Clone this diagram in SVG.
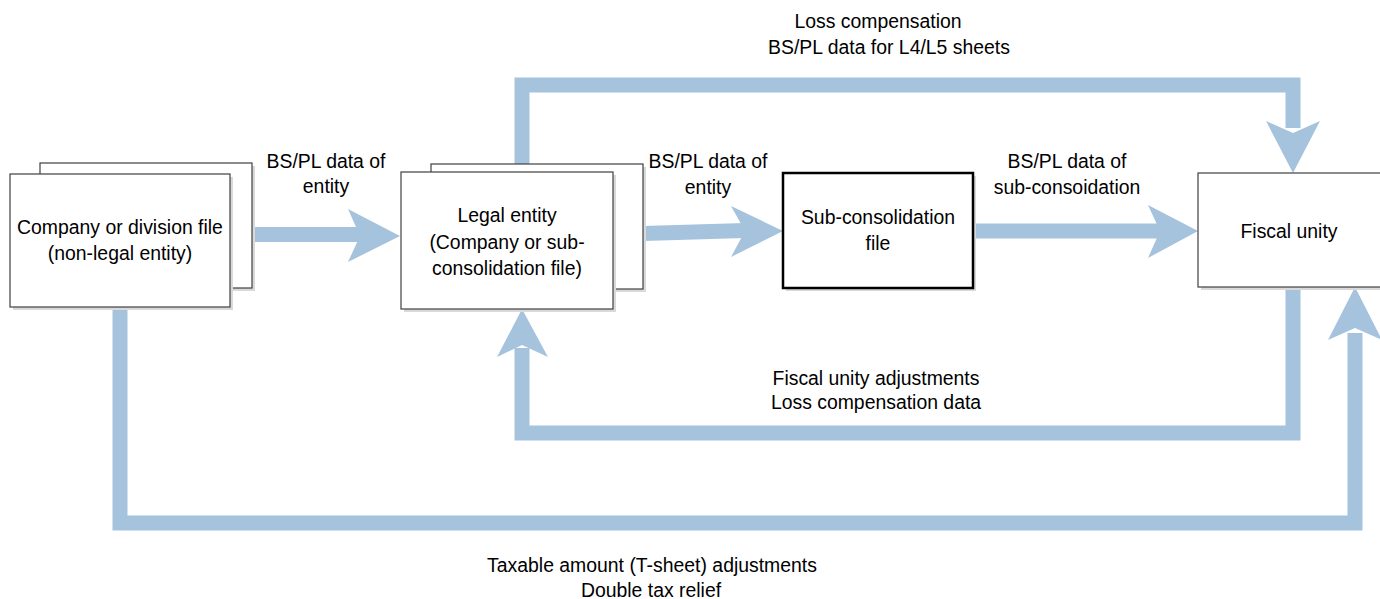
<svg xmlns="http://www.w3.org/2000/svg" width="1380" height="599" viewBox="0 0 1380 599">
<style>
.box{fill:#fff;stroke:#404040;stroke-width:1.2}
.thick{fill:#fff;stroke:#000;stroke-width:2.5}
.shadow{fill:#d9d9d9}
.flow{fill:none;stroke:#a6c3dd;stroke-width:15}
.head{fill:#a6c3dd}
text{font-family:"Liberation Sans",Arial,sans-serif;font-size:19.4px;fill:#000;text-anchor:middle}
</style>
<rect width="1380" height="599" fill="#fff"/>
<g id="connectors">
  <path class="flow" d="M522,164 V85 H1293 V128"/>
  <polygon class="head" points="1293,173 1266,121 1293,133 1320,121"/>
  <path class="flow" d="M1293,288 V433 H522 V348"/>
  <polygon class="head" points="522,309 497,357 522,345 548,357"/>
  <path class="flow" d="M120,308 V523 H1355 V333"/>
  <polygon class="head" points="1355,287 1328,340 1355,328 1382,340"/>
  <path class="flow" d="M252,234.5 H362" stroke-width="17"/>
  <polygon class="head" points="400,236 348,209 360,236 348,262"/>
  <path class="flow" d="M643,233.5 L745,230.5" stroke-width="16"/>
  <polygon class="head" points="783,231 731,206 745,231 731,257"/>
  <path class="flow" d="M973,231 H1162" stroke-width="16"/>
  <polygon class="head" points="1198,231 1148,205 1160,231 1148,258"/>
</g>
<g id="company">
  <rect class="shadow" x="43" y="166" width="212" height="125"/>
  <rect class="box" x="40" y="163" width="212" height="125"/>
  <rect class="shadow" x="13" y="177" width="220" height="133"/>
  <rect class="box" x="10" y="174" width="220" height="133"/>
  <text x="120" y="234">Company or division file</text>
  <text x="120" y="260">(non-legal entity)</text>
</g>
<g id="legal">
  <rect class="shadow" x="434" y="167" width="212" height="125"/>
  <rect class="box" x="431" y="164" width="212" height="125"/>
  <rect class="shadow" x="404" y="175" width="212" height="137"/>
  <rect class="box" x="401" y="172" width="212" height="137"/>
  <text x="507" y="222">Legal entity</text>
  <text x="507" y="249">(Company or sub-</text>
  <text x="507" y="275">consolidation file)</text>
</g>
<g id="subcons">
  <rect class="shadow" x="786" y="176" width="190" height="115"/>
  <rect class="thick" x="783" y="173" width="190" height="115"/>
  <text x="878" y="224">Sub-consolidation</text>
  <text x="878" y="250">file</text>
</g>
<g id="fiscal">
  <rect class="shadow" x="1201" y="176" width="182" height="114"/>
  <rect class="box" x="1198" y="173" width="185" height="114"/>
  <text x="1289" y="238">Fiscal unity</text>
</g>
<g id="labels">
  <text x="326" y="168">BS/PL data of</text>
  <text x="326" y="193">entity</text>
  <text x="708" y="168">BS/PL data of</text>
  <text x="708" y="194">entity</text>
  <text x="1067" y="168">BS/PL data of</text>
  <text x="1067" y="194">sub-consoidation</text>
  <text x="878" y="28">Loss compensation</text>
  <text x="889" y="54">BS/PL data for L4/L5 sheets</text>
  <text x="876" y="385">Fiscal unity adjustments</text>
  <text x="876" y="409">Loss compensation data</text>
  <text x="652" y="572">Taxable amount (T-sheet) adjustments</text>
  <text x="651" y="597">Double tax relief</text>
</g>
</svg>
